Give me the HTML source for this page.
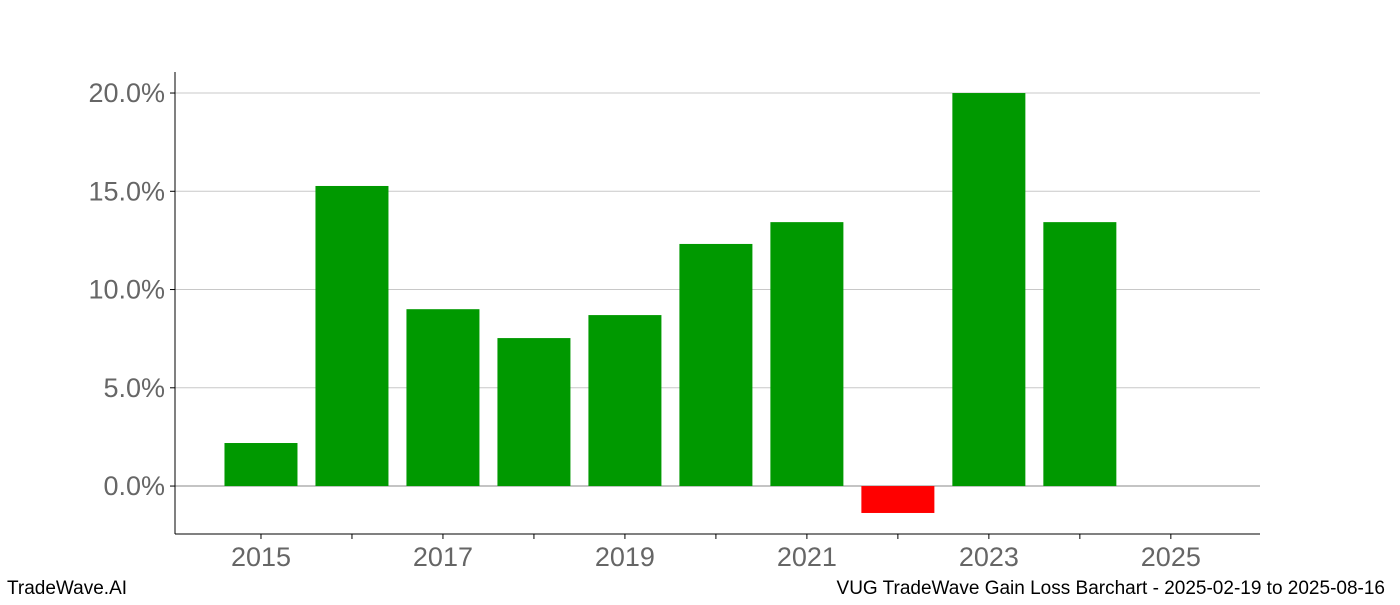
<!DOCTYPE html>
<html><head><meta charset="utf-8"><style>
body{margin:0;background:#fff;width:1400px;height:600px;overflow:hidden;font-family:"Liberation Sans",sans-serif}
</style></head><body>
<svg width="1400" height="600">
<g id="grid"></g>
<g id="bars"></g>
<g id="axes"></g>
<text x="7" y="594" font-size="19" fill="#000">TradeWave.AI</text>
<text x="1385" y="594" font-size="19" fill="#000" text-anchor="end">VUG TradeWave Gain Loss Barchart - 2025-02-19 to 2025-08-16</text>
</svg>
<script>
const years=[2015,2016,2017,2018,2019,2020,2021,2022,2023,2024];
const gains=[2.19,15.27,9.0,7.53,8.70,12.32,13.43,-1.37,20.0,13.43];
const yTicks=[0,5,10,15,20];
const xTickYears=[2015,2016,2017,2018,2019,2020,2021,2022,2023,2024,2025];
const xLabelYears=[2015,2017,2019,2021,2023,2025];
const L=175,R=1260,T=72,B=534;
const x0=14.055,x1=25.98,y0=-2.44,y1=21.07;
const X=v=>L+(v-2000-x0)/(x1-x0)*(R-L);
const Y=v=>B-(v-y0)/(y1-y0)*(B-T);
const NS="http://www.w3.org/2000/svg";
function mk(tag,attrs,parent){const e=document.createElementNS(NS,tag);for(const k in attrs)e.setAttribute(k,attrs[k]);document.getElementById(parent).appendChild(e);return e;}
yTicks.forEach(v=>{
 const g=mk('line',{x1:L,x2:R,y1:Y(v),y2:Y(v),stroke:v===0?'#888':'#c8c8c8','stroke-width':1},'grid');
 
 
 const t=mk('line',{x1:L-5,x2:L,y1:Y(v),y2:Y(v),stroke:'#000'},'axes');
 
 
 const tx=mk('text',{x:L-10,y:Y(v)+9,'font-size':27,fill:'#666','text-anchor':'end'},'axes');
 tx.textContent=v.toFixed(1)+'%';
 
 
});
const bw=73;
years.forEach((yr,i)=>{
 const v=gains[i];
 const r=mk('rect',{x:X(yr)-bw/2,y:Math.min(Y(v),Y(0)),width:bw,height:Math.abs(Y(v)-Y(0)),fill:v>=0?'#009900':'#ff0000'},'bars');
 
 
});
xTickYears.forEach(yr=>{
 const t=mk('line',{x1:X(yr),x2:X(yr),y1:B,y2:B+5,stroke:'#000'},'axes');
 
 
});
xLabelYears.forEach(yr=>{
 const tx=mk('text',{x:X(yr),y:B+32,'font-size':27,fill:'#666','text-anchor':'middle'},'axes');
 tx.textContent=yr;
 
 
});
const la=mk('line',{x1:L,x2:L,y1:T,y2:B,stroke:'#000'},'axes');


const ba=mk('line',{x1:L,x2:R,y1:B,y2:B,stroke:'#000'},'axes');


</script>
</body></html>
